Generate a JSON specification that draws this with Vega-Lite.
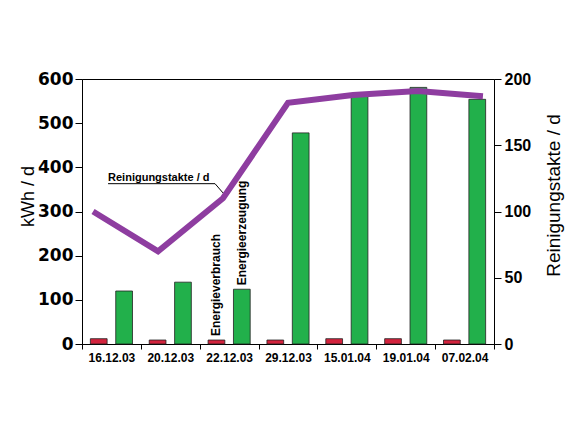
{
  "$schema": "https://vega.github.io/schema/vega-lite/v6.json",
  "width": 412,
  "height": 265,
  "autosize": "none",
  "padding": {"left": 82, "top": 79, "right": 72, "bottom": 79},
  "background": "white",
  "config": {
    "view": {"stroke": "#000", "strokeWidth": 1},
    "font": "Liberation Sans",
    "axis": {"domainColor": "#000", "tickColor": "#000", "labelColor": "#000", "titleColor": "#000", "grid": false}
  },
  "datasets": {
    "energy": [
      {"date": "16.12.03", "series": "Energieverbrauch", "kwh": 12},
      {"date": "16.12.03", "series": "Energieerzeugung", "kwh": 120},
      {"date": "20.12.03", "series": "Energieverbrauch", "kwh": 9},
      {"date": "20.12.03", "series": "Energieerzeugung", "kwh": 140},
      {"date": "22.12.03", "series": "Energieverbrauch", "kwh": 9},
      {"date": "22.12.03", "series": "Energieerzeugung", "kwh": 124},
      {"date": "29.12.03", "series": "Energieverbrauch", "kwh": 9},
      {"date": "29.12.03", "series": "Energieerzeugung", "kwh": 478},
      {"date": "15.01.04", "series": "Energieverbrauch", "kwh": 12},
      {"date": "15.01.04", "series": "Energieerzeugung", "kwh": 567},
      {"date": "19.01.04", "series": "Energieverbrauch", "kwh": 12},
      {"date": "19.01.04", "series": "Energieerzeugung", "kwh": 581},
      {"date": "07.02.04", "series": "Energieverbrauch", "kwh": 9},
      {"date": "07.02.04", "series": "Energieerzeugung", "kwh": 554}
    ],
    "takte": [
      {"date": "16.12.03", "takte": 100},
      {"date": "20.12.03", "takte": 70},
      {"date": "22.12.03", "takte": 110},
      {"date": "29.12.03", "takte": 182},
      {"date": "15.01.04", "takte": 188},
      {"date": "19.01.04", "takte": 191},
      {"date": "07.02.04", "takte": 187}
    ]
  },
  "layer": [
    {
      "data": {"name": "energy"},
      "encoding": {
        "x": {
          "field": "date", "type": "ordinal", "sort": null,
          "scale": {"paddingInner": 0, "paddingOuter": 0},
          "axis": {
            "title": null, "labelAngle": 0, "tickBand": "extent", "tickSize": 5,
            "labelFontSize": 12, "labelFontWeight": "bold", "labelPadding": 3
          }
        },
        "xOffset": {
          "field": "series", "type": "nominal",
          "sort": ["Energieverbrauch", "Energieerzeugung"],
          "scale": {"paddingInner": 0.34, "paddingOuter": 0.33}
        },
        "y": {
          "field": "kwh", "type": "quantitative",
          "scale": {"domain": [0, 600]},
          "axis": {
            "orient": "left", "values": [0, 100, 200, 300, 400, 500, 600],
            "tickSize": 7, "labelFont": "DejaVu Sans", "labelFontSize": 17, "labelFontWeight": "bold",
            "labelPadding": 2, "title": "kWh / d", "titleFontSize": 18, "titleFontWeight": "normal",
            "titlePadding": 0, "titleY": 117
          }
        }
      },
      "layer": [
        {
          "mark": {"type": "bar", "stroke": "#222", "strokeWidth": 0.8},
          "encoding": {
            "color": {
              "field": "series", "type": "nominal",
              "scale": {"domain": ["Energieverbrauch", "Energieerzeugung"], "range": ["#d3233d", "#22b04b"]},
              "legend": null
            }
          }
        },
        {
          "transform": [{"filter": "datum.date === '22.12.03'"}],
          "mark": {"type": "text", "angle": 270, "align": "left", "baseline": "middle", "dx": 4,
                   "fontSize": 12, "fontWeight": "bold", "color": "#000"},
          "encoding": {"text": {"field": "series"}}
        }
      ]
    },
    {
      "data": {"name": "takte"},
      "layer": [
        {
          "mark": {"type": "line", "color": "#8e3da0", "strokeWidth": 6, "strokeCap": "butt"},
          "encoding": {
            "x": {"field": "date", "type": "ordinal", "sort": null, "scale": {"type": "point", "padding": 0.17}, "axis": null},
            "y": {
              "field": "takte", "type": "quantitative", "scale": {"domain": [0, 200]},
              "axis": {
                "orient": "right", "values": [0, 50, 100, 150, 200], "tickSize": 7,
                "labelFontSize": 16, "labelFontWeight": "bold", "labelPadding": 3,
                "title": "Reinigungstakte / d", "titleAngle": 270, "titleBaseline": "top", "titleFontSize": 19,
                "titleFontWeight": "normal", "titlePadding": 14, "titleY": 116
              }
            }
          }
        },
        {
          "data": {"values": [{}]},
          "mark": {"type": "text", "align": "left", "baseline": "alphabetic", "dx": 15,
                   "fontSize": 11, "fontWeight": "bold", "color": "#000", "text": "Reinigungstakte / d"},
          "encoding": {
            "x": {"datum": "16.12.03", "type": "ordinal"},
            "y": {"datum": 123, "type": "quantitative"}
          }
        },
        {
          "data": {"values": [{}]},
          "mark": {"type": "rule", "color": "#000", "strokeWidth": 1, "xOffset": 15, "x2Offset": -8},
          "encoding": {
            "x": {"datum": "16.12.03", "type": "ordinal"},
            "x2": {"datum": "22.12.03"},
            "y": {"datum": 121, "type": "quantitative"}
          }
        },
        {
          "data": {"values": [{}]},
          "mark": {"type": "rule", "color": "#000", "strokeWidth": 1, "xOffset": -8},
          "encoding": {
            "x": {"datum": "22.12.03", "type": "ordinal"},
            "x2": {"datum": "22.12.03"},
            "y": {"datum": 121, "type": "quantitative"},
            "y2": {"datum": 114}
          }
        }
      ]
    }
  ],
  "resolve": {"scale": {"x": "independent", "y": "independent", "color": "independent"}}
}
